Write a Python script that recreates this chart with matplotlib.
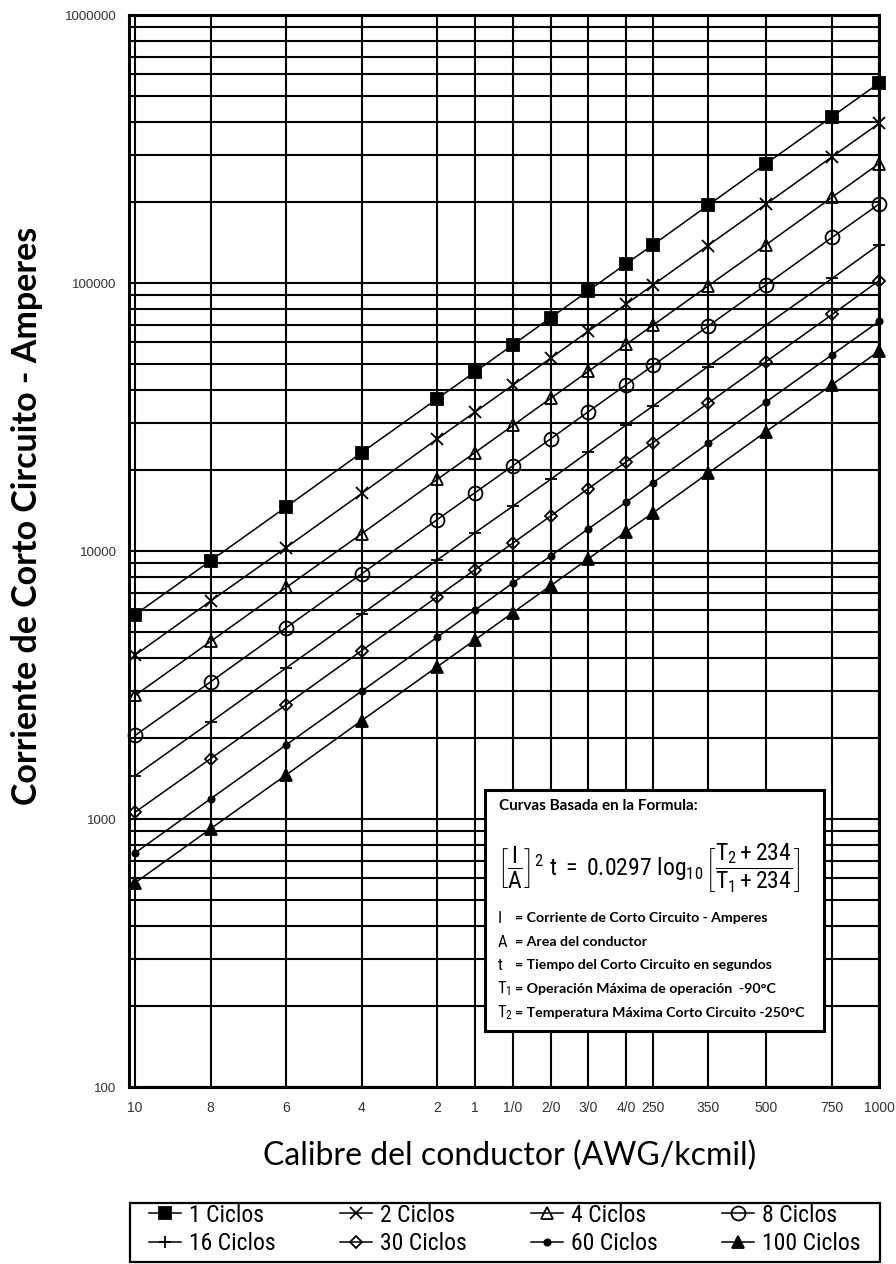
import matplotlib
matplotlib.use("Agg")
import matplotlib.pyplot as plt
from matplotlib import font_manager as fm
from matplotlib.patches import Rectangle
from matplotlib.ticker import FixedLocator, FixedFormatter, LogLocator, NullFormatter, NullLocator, FuncFormatter

# conductor sizes and their area in kcmil (x scale)
sizes = ['10', '8', '6', '4', '2', '1', '1/0', '2/0', '3/0', '4/0', '250', '350', '500', '750', '1000']
area_kcmil = [10.38, 16.51, 26.24, 41.74, 66.36, 83.69, 105.6, 133.1, 167.8, 211.6, 250, 350, 500, 750, 1000]

# short circuit current (A) read for each number of cycles
c1 = [5790, 9200, 14600, 23300, 37000, 46600, 58800, 74200, 93500, 118000, 139000, 195000, 279000, 418000, 557000]
c2 = [4090, 6510, 10300, 16400, 26200, 33000, 41600, 52400, 66100, 83400, 98500, 138000, 197000, 296000, 394000]
c4 = [2890, 4600, 7310, 11600, 18500, 23300, 29400, 37100, 46800, 59000, 69700, 97500, 139000, 209000, 279000]
c8 = [2050, 3250, 5170, 8220, 13100, 16500, 20800, 26200, 33100, 41700, 49300, 69000, 98500, 148000, 197000]
c16 = [1450, 2300, 3660, 5820, 9250, 11700, 14700, 18500, 23400, 29500, 34800, 48800, 69700, 104000, 139000]
c30 = [1060, 1680, 2670, 4250, 6750, 8520, 10700, 13500, 17100, 21500, 25400, 35600, 50900, 76300, 102000]
c60 = [747, 1190, 1890, 3000, 4770, 6020, 7600, 9580, 12100, 15200, 18000, 25200, 36000, 54000, 71900]
c100 = [578, 920, 1460, 2330, 3700, 4660, 5890, 7420, 9350, 11800, 13900, 19500, 27900, 41800, 55700]

series_names = ['1 Ciclos', '2 Ciclos', '4 Ciclos', '8 Ciclos', '16 Ciclos', '30 Ciclos', '60 Ciclos', '100 Ciclos']
series = [c1, c2, c4, c8, c16, c30, c60, c100]

# marker, size, filled
styles = [('s', 8, True), ('x', 8, False), ('^', 9, False), ('o', 10, False),
          ('+', 9, False), ('D', 6.5, False), ('o', 4.5, True), ('^', 8, True)]

names = {f.name for f in fm.fontManager.ttflist}
narrow = 'Liberation Sans'
for cand in ['Liberation Sans Narrow', 'Roboto Condensed', 'Open Sans Condensed', 'Arial Narrow']:
    if cand in names:
        narrow = cand
        break
is_narrow = narrow != 'Liberation Sans'
label_font = 'Lato' if 'Lato' in names else 'DejaVu Sans'

plt.rcParams['mathtext.fontset'] = 'custom'
plt.rcParams['mathtext.rm'] = narrow
plt.rcParams['mathtext.it'] = narrow
plt.rcParams['mathtext.bf'] = narrow

W, H = 896, 1264
fig = plt.figure(figsize=(W / 100, H / 100), dpi=100)
ax = fig.add_axes([129 / W, 1 - 1087 / H, 750 / W, 1072 / H])
ax.set_xscale('log')
ax.set_yscale('log')
ax.set_xlim(10, 1000)
ax.set_ylim(100, 1e6)

for name, vals, (m, ms, filled) in zip(series_names, series, styles):
    ax.plot(area_kcmil, vals, color='black', lw=1.1, marker=m, ms=ms,
            mfc='black' if filled else 'none', mec='black', mew=1.3,
            label=name, zorder=3, clip_on=False)

ax.xaxis.set_major_locator(FixedLocator(area_kcmil))
ax.xaxis.set_major_formatter(FixedFormatter(sizes))
ax.xaxis.set_minor_locator(NullLocator())
ax.yaxis.set_major_locator(LogLocator(base=10))
ax.yaxis.set_major_formatter(FuncFormatter(lambda v, p: '%d' % round(v)))
ax.yaxis.set_minor_locator(LogLocator(base=10, subs=range(2, 10)))
ax.yaxis.set_minor_formatter(NullFormatter())

ax.grid(which='both', axis='y', color='black', lw=1.5)
ax.grid(which='major', axis='x', color='black', lw=1.5)
ax.tick_params(which='both', length=0)
ax.tick_params(axis='x', pad=10, labelsize=10, labelcolor='#333333')
ax.tick_params(axis='y', pad=9, labelsize=9.5, labelcolor='#333333')
for lab in ax.get_xticklabels() + ax.get_yticklabels():
    lab.set_family('Liberation Sans')
for s in ax.spines.values():
    s.set_linewidth(2.2)

fig.text(27 / W, 1 - 516 / H, 'Corriente de Corto Circuito - Amperes', rotation=90,
         ha='center', va='center', fontsize=24.5, fontweight='bold', family=label_font)
fig.text(510 / W, 1 - 1156 / H, 'Calibre del conductor (AWG/kcmil)',
         ha='center', va='center', fontsize=23, family=label_font)

# formula box
bax = fig.add_axes([485 / W, 1 - 1031 / H, 339 / W, 241 / H])
bax.set_xticks([])
bax.set_yticks([])
bax.set_facecolor('white')
for s in bax.spines.values():
    s.set_linewidth(2.2)
bax.text(0.04, 0.935, 'Curvas Basada en la Formula:', transform=bax.transAxes,
         ha='left', va='center', fontsize=11, family=label_font, fontweight='bold')
bax.text(0.035, 0.675,
         r'$\left[\dfrac{\mathrm{I}}{\mathrm{A}}\right]^{2}\ \mathrm{t}\ =\ 0.0297\ \log_{10}\left[\dfrac{\mathrm{T_2}+234}{\mathrm{T_1}+234}\right]$',
         transform=bax.transAxes, ha='left', va='center', fontsize=17 if is_narrow else 15)
defs = [(r'$\mathrm{I}$', 'Corriente de Corto Circuito - Amperes'),
        (r'$\mathrm{A}$', 'Area del conductor'),
        (r'$\mathrm{t}$', 'Tiempo del Corto Circuito en segundos'),
        (r'$\mathrm{T_1}$', 'Operación Máxima de operación  -90°C'),
        (r'$\mathrm{T_2}$', 'Temperatura Máxima Corto Circuito -250°C')]
ys = [0.469, 0.369, 0.274, 0.174, 0.075]
for (sym, txt), y in zip(defs, ys):
    bax.text(0.035, y, sym, transform=bax.transAxes, ha='left', va='center', fontsize=12)
    bax.text(0.088, y, '= ' + txt, transform=bax.transAxes, ha='left', va='center',
             fontsize=10.2, family=label_font, fontweight='bold')

# legend frame drawn separately so the entries sit inset like the chart
fig.patches.append(Rectangle((130 / W, 1 - 1262 / H), 750 / W, 59 / H, transform=fig.transFigure,
                             facecolor='white', edgecolor='black', lw=1.6))
handles, labels = ax.get_legend_handles_labels()
order = [0, 4, 1, 5, 2, 6, 3, 7]
leg = fig.legend([handles[i] for i in order], [labels[i] for i in order], ncol=4,
                 loc='lower left', bbox_to_anchor=(142 / W, 1 - 1262 / H, 726 / W, 59 / H),
                 mode='expand', borderaxespad=0, frameon=False, handlelength=1.35,
                 handletextpad=0.35, labelspacing=0.22, borderpad=0.3,
                 prop={'family': narrow, 'size': 17})

fig.savefig('out.png', dpi=100)
